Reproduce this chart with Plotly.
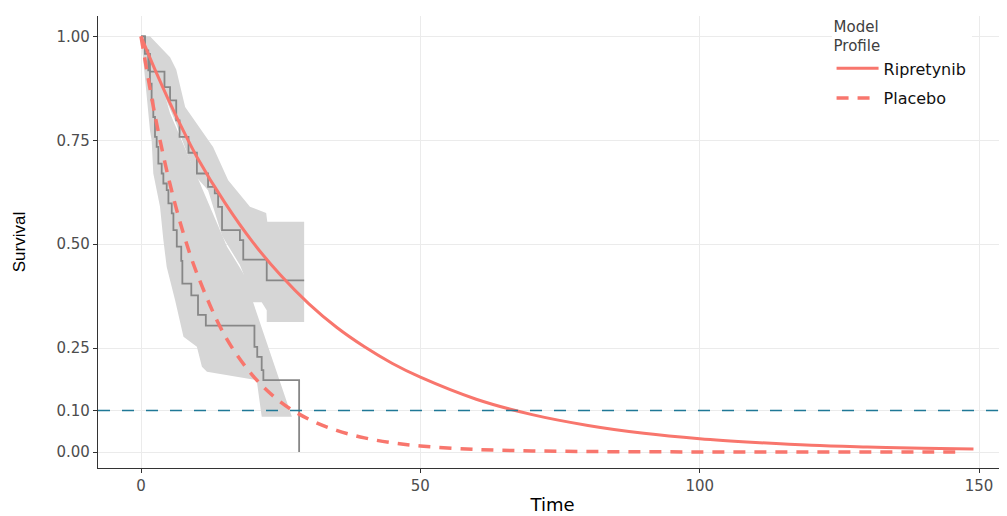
import plotly.graph_objects as go

# ---------------- data ----------------
# Parametric model fits
fit_time_rip = [0, 2.5, 5, 7.5, 10, 15, 20, 25, 30, 35, 40, 45, 50, 60, 70, 80, 90, 100, 110, 120, 130, 140, 149]
fit_surv_rip = [1.0, 0.92, 0.845, 0.775, 0.71, 0.60, 0.505, 0.425, 0.357, 0.30, 0.253, 0.213, 0.18,
                0.127, 0.09, 0.064, 0.045, 0.032, 0.023, 0.016, 0.012, 0.009, 0.007]
fit_time_pla = [0, 2.5, 5, 7.5, 10, 15, 20, 25, 30, 35, 40, 45, 50, 60, 70, 80, 90, 100, 110, 120, 130, 140, 147]
fit_surv_pla = [1.0, 0.81, 0.655, 0.53, 0.43, 0.28, 0.184, 0.12, 0.079, 0.052, 0.034, 0.022, 0.0145,
                0.006, 0.0027, 0.0012, 0.0005, 0.0002, 0.0001, 0.0, 0.0, 0.0, 0.0]

# Kaplan-Meier estimates
km_time_rip = [0, 0.7, 1.6, 4.2, 5.2, 6.3, 6.9, 8.5, 10.0, 12.0, 13.2, 13.8, 14.5, 17.7, 18.3, 22.5, 29.2]
km_surv_rip = [1.0, 0.958, 0.915, 0.878, 0.846, 0.798, 0.758, 0.72, 0.67, 0.638, 0.622, 0.59, 0.534,
               0.51, 0.463, 0.413, 0.413]
km_time_pla = [0, 0.7, 1.3, 1.6, 1.9, 2.2, 2.5, 2.8, 3.1, 3.7, 4.0, 4.6, 4.9, 5.5, 5.8, 6.4, 7.2, 7.4,
               9.0, 10.2, 11.6, 20.3, 20.8, 21.6, 21.9, 28.3]
km_surv_pla = [1.0, 0.966, 0.918, 0.886, 0.846, 0.806, 0.758, 0.734, 0.694, 0.67, 0.646, 0.63, 0.598,
               0.574, 0.534, 0.494, 0.46, 0.405, 0.377, 0.33, 0.304, 0.253, 0.229, 0.197, 0.173, 0.0]

# Confidence bands (upper and lower limits)
ci_up_time_rip = [0, 1.6, 5.2, 6.3, 7.9, 10.0, 12.9, 15.6, 19.5, 22.4, 22.6, 29.2]
ci_up_rip = [1.0, 1.0, 0.95, 0.92, 0.83, 0.79, 0.734, 0.654, 0.59, 0.575, 0.554, 0.554]
ci_lo_time_rip = [0, 1.0, 2.0, 4.1, 6.3, 8.5, 10.0, 12.0, 14.5, 17.7, 18.3, 18.3, 21.6, 22.5, 22.5, 29.2]
ci_lo_rip = [1.0, 0.95, 0.9, 0.86, 0.79, 0.71, 0.66, 0.63, 0.52, 0.45, 0.43, 0.36, 0.36, 0.341, 0.313, 0.313]

ci_up_time_pla = [0, 1.5, 5.2, 15.4, 18.3, 27.0]
ci_up_pla = [1.0, 0.99, 0.815, 0.494, 0.43, 0.089]
ci_lo_time_pla = [0, 0.4, 1.0, 1.6, 1.9, 2.2, 3.4, 4.0, 4.6, 6.1, 7.6, 10.0, 10.9, 11.8, 20.7, 21.6, 27.0]
ci_lo_pla = [1.0, 0.934, 0.854, 0.774, 0.75, 0.67, 0.59, 0.51, 0.445, 0.365, 0.277, 0.253, 0.205,
             0.193, 0.173, 0.085, 0.085]

threshold = 0.10
y_ticks = [0.0, 0.10, 0.25, 0.50, 0.75, 1.00]
y_tick_labels = ["0.00", "0.10", "0.25", "0.50", "0.75", "1.00"]
x_ticks = [0, 50, 100, 150]

RED = "#F8766D"
BAND = "rgb(214,214,214)"
KMC = "rgb(135,135,135)"

fig = go.Figure()


def band(tu, u, tl, lo):
    xs = list(tu) + list(reversed(tl))
    ys = list(u) + list(reversed(lo))
    fig.add_trace(go.Scatter(x=xs, y=ys, mode="lines", fill="toself", fillcolor=BAND,
                             line=dict(width=0, color=BAND), hoverinfo="skip", showlegend=False))


band(ci_up_time_pla, ci_up_pla, ci_lo_time_pla, ci_lo_pla)
band(ci_up_time_rip, ci_up_rip, ci_lo_time_rip, ci_lo_rip)

for t, s in ((km_time_rip, km_surv_rip), (km_time_pla, km_surv_pla)):
    fig.add_trace(go.Scatter(x=t, y=s, mode="lines", line=dict(color=KMC, width=1.8, shape="hv"),
                             showlegend=False, hoverinfo="skip"))

fig.add_hline(y=threshold, line=dict(color="#1f7896", width=1.6, dash="12px,12px"), layer="above")

fig.add_trace(go.Scatter(x=fit_time_rip, y=fit_surv_rip, mode="lines", name="Ripretynib",
                         legendgroup="a",
                         line=dict(color=RED, width=3, shape="spline")))
fig.add_trace(go.Scatter(x=fit_time_pla, y=fit_surv_pla, mode="lines", name="Placebo",
                         legendgroup="b",
                         line=dict(color=RED, width=3.5, dash="12px,9px", shape="spline")))

fig.update_layout(
    width=1007, height=516,
    margin=dict(l=90, r=8, t=8, b=56, autoexpand=False),
    paper_bgcolor="white", plot_bgcolor="white",
    showlegend=True,
    legend=dict(
        x=0.807, y=1.008, xanchor="left", yanchor="top",
        bgcolor="white", tracegroupgap=6,
        title=dict(text="Model<br>Profile", font=dict(family="DejaVu Sans", size=15, color="#404040")),
        font=dict(family="DejaVu Sans", size=16, color="#111111"),
        itemwidth=42,
    ),
    xaxis=dict(
        range=[-7.7, 155.0], tickvals=x_ticks, ticks="outside", ticklen=4, tickcolor="#333333",
        showline=True, linecolor="#333333", linewidth=1.2, mirror=False,
        showgrid=True, gridcolor="#ebebeb", gridwidth=1, zeroline=False,
        tickfont=dict(family="DejaVu Sans", size=15, color="#4d4d4d"),
        title=dict(text="Time", font=dict(family="DejaVu Sans", size=18, color="#000000"), standoff=4),
    ),
    yaxis=dict(
        range=[-0.0385, 1.049], tickvals=y_ticks, ticktext=y_tick_labels, ticks="outside", ticklen=4,
        tickcolor="#333333", showline=True, linecolor="#333333", linewidth=1.2,
        showgrid=True, gridcolor="#ebebeb", gridwidth=1, zeroline=False,
        tickfont=dict(family="DejaVu Sans", size=15, color="#4d4d4d"),
        title=dict(text="Survival", font=dict(family="Liberation Sans Narrow, Liberation Sans", size=17,
                                              color="#000000"), standoff=26),
    ),
)

fig.write_html("out.html")
